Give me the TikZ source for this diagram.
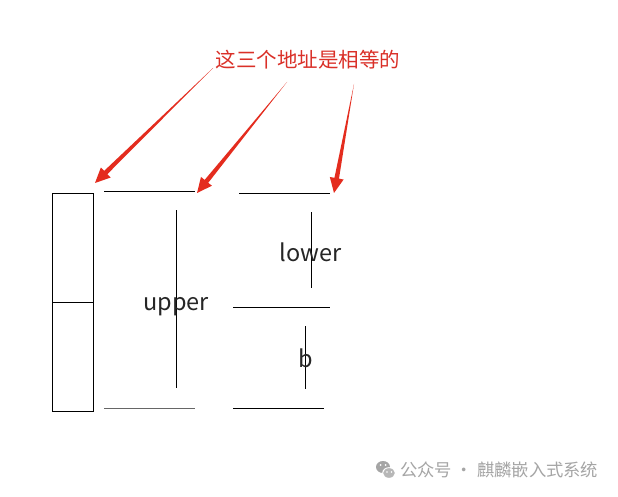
\documentclass[tikz,border=0pt]{standalone}
\usepackage{fontspec}
\setmainfont{Noto Sans CJK SC}
\usetikzlibrary{calc}
\definecolor{arrred}{RGB}{228,44,30}
\definecolor{titred}{RGB}{218,48,40}
\definecolor{wmgray}{RGB}{165,165,165}
\newcommand\taparrow[2]{%
  \coordinate (tb) at ($(#2)!15pt!(#1)$);
  \fill[arrred] (#1) -- ($(tb)!2.3pt!90:(#1)$) -- ($(tb)!7pt!90:(#1)$) -- (#2)
     -- ($(tb)!7pt!-90:(#1)$) -- ($(tb)!2.3pt!-90:(#1)$) -- cycle;}
\begin{document}
\begin{tikzpicture}[x=1pt,y=-1pt,
  ln/.style={line width=0.9pt,black},
  lbl/.style={font=\fontsize{23.5}{25}\selectfont, text=black!85, inner sep=0pt, anchor=base}]
\useasboundingbox[fill=white] (0,0) rectangle (618,497);
% title
\node[text=titred, font=\fontsize{20.5}{22}\selectfont, inner sep=0pt] (title) at (308,60) {这三个地址是相等的};
\coordinate (s1) at (213,68);
\coordinate (s2) at (287,82);
\coordinate (s3) at (354,84);
\coordinate (t1) at (95,183);
\coordinate (t2) at (197,193);
\coordinate (t3) at (334,193);
\taparrow{s1}{t1}
\taparrow{s2}{t2}
\taparrow{s3}{t3}
% left box
\draw[ln] (52,193) rectangle (93,411);
\draw[ln] (52,302) -- (93,302);
% upper
\coordinate (ua) at (104,191); \coordinate (ub) at (195,191);
\draw[ln] (ua) -- (ub);
\coordinate (uc) at (104,408); \coordinate (ud) at (195,408);
\draw[line width=0.9pt, black!60] (uc) -- (ud);
\coordinate (uv1) at (176,210); \coordinate (uv2) at (176,388);
\draw[ln] (uv1) -- (uv2);
\node[lbl] (upper) at (176,310) {upper};
% lower
\coordinate (la) at (239,193); \coordinate (lb) at (330,193);
\draw[ln] (la) -- (lb);
\coordinate (lc) at (233,307); \coordinate (ld) at (330,307);
\draw[ln] (lc) -- (ld);
\coordinate (le) at (233,408); \coordinate (lf) at (324,408);
\draw[ln] (le) -- (lf);
\coordinate (lv1) at (311,212); \coordinate (lv2) at (311,288);
\draw[ln] (lv1) -- (lv2);
\node[lbl] (lower) at (310.5,261) {lower};
\coordinate (bv1) at (305,326); \coordinate (bv2) at (305,389);
\draw[ln] (bv1) -- (bv2);
\node[lbl] (b) at (306,367) {b};
% watermark
\fill[wmgray] (383,467) ellipse (7pt and 6pt);
\fill[white] (389,473) ellipse (6.8pt and 5.8pt);
\fill[wmgray!80] (389,473) ellipse (5.8pt and 4.8pt);
\fill[white] (380.5,465) circle (1pt) (385.5,465) circle (1pt);
\fill[white] (387,472) circle (0.8pt) (391.5,472) circle (0.8pt);
\node[text=wmgray, font=\fontsize{17.3}{19}\selectfont, anchor=west, inner sep=0pt] (wm) at (400,470) {公众号 · 麒麟嵌入式系统};
\end{tikzpicture}
\end{document}
